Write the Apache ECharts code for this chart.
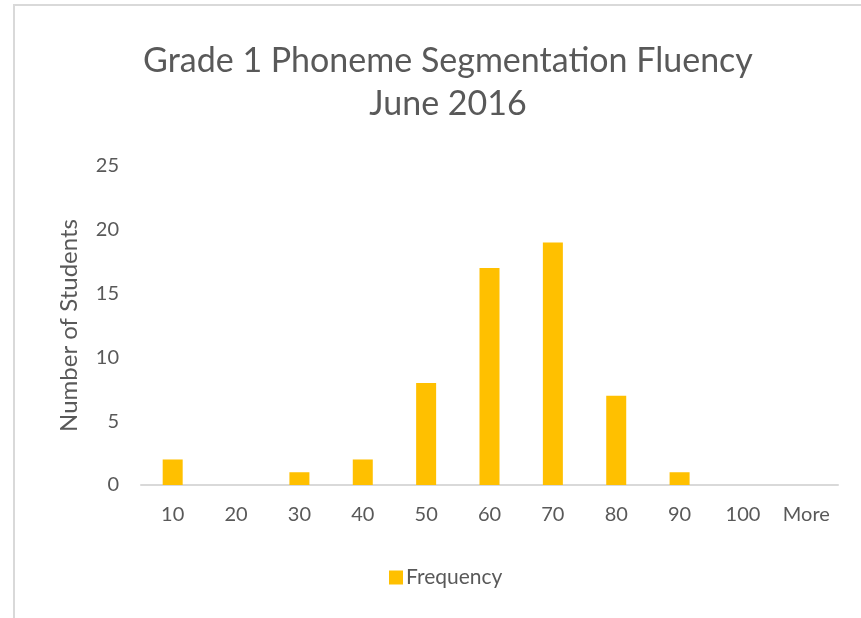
<!DOCTYPE html>
<html>
<head>
<meta charset="utf-8">
<script src="https://cdn.jsdelivr.net/npm/echarts@6/dist/echarts.min.js"></script>
<style>
  html, body { margin: 0; padding: 0; background: #fff; }
  #chart { width: 861px; height: 618px; }
</style>
</head>
<body>
<div id="chart"></div>
<script>
// 分组区间
const bins = ["10", "20", "30", "40", "50", "60", "70", "80", "90", "100", "More"];
// 每组学生人数
const frequency = [2, 0, 1, 2, 8, 17, 19, 7, 1, 0, 0];
// y轴刻度
const yTicks = [0, 5, 10, 15, 20, 25];

const textColor = "#595959";
const fontFamily = "Lato, 'Open Sans', sans-serif";

const chart = echarts.init(document.getElementById("chart"));

chart.setOption({
  animation: false,
  title: {
    text: "Grade 1 Phoneme Segmentation Fluency\nJune 2016",
    left: 443,
    textAlign: "center",
    top: 35,
    textStyle: {
      color: textColor,
      fontFamily: fontFamily,
      fontSize: 34,
      fontWeight: "normal",
      lineHeight: 43,
    },
  },
  legend: {
    data: ["Frequency"],
    left: 384,
    top: 562,
    itemWidth: 14,
    itemHeight: 14,
    itemGap: 6,
    icon: "rect",
    textStyle: {
      color: textColor,
      fontFamily: fontFamily,
      fontSize: 21,
      padding: [0, 0, 0, -2],
    },
  },
  grid: {
    left: 141,
    right: 23,
    top: 166,
    bottom: 133,
  },
  xAxis: {
    type: "category",
    data: bins,
    axisLine: { lineStyle: { color: "#d9d9d9", width: 2 } },
    axisTick: { show: false },
    axisLabel: {
      color: textColor,
      fontFamily: fontFamily,
      fontSize: 20,
      margin: 20,
    },
  },
  yAxis: {
    type: "value",
    min: yTicks[0],
    max: yTicks[yTicks.length - 1],
    interval: 5,
    name: "Number of Students",
    nameLocation: "middle",
    nameGap: 60,
    nameTextStyle: {
      color: textColor,
      fontFamily: fontFamily,
      fontSize: 24,
    },
    axisLine: { show: false },
    axisTick: { show: false },
    splitLine: { show: false },
    axisLabel: {
      color: textColor,
      fontFamily: fontFamily,
      fontSize: 20,
      margin: 22,
    },
  },
  series: [
    {
      name: "Frequency",
      type: "bar",
      data: frequency,
      barWidth: 20,
      itemStyle: { color: "#ffc000" },
    },
  ],
  graphic: [
    {
      type: "polyline",
      silent: true,
      shape: { points: [[14, 618], [14, 5], [861, 5]] },
      style: { stroke: "#d9d9d9", lineWidth: 2, fill: null },
    },
  ],
});
</script>
</body>
</html>
